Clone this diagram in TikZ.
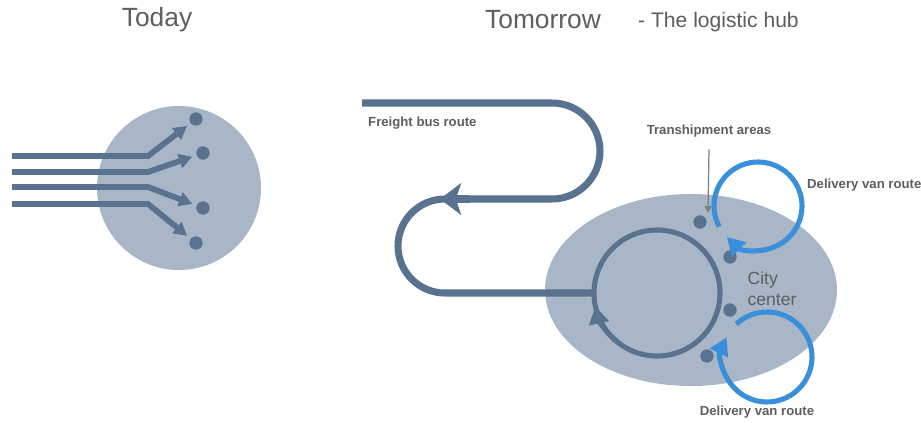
\documentclass[tikz,border=0pt]{standalone}
\usepackage{fontspec}
\setmainfont{Liberation Sans}
\usetikzlibrary{arrows.meta}
\definecolor{zonegray}{HTML}{A9B6C7}
\definecolor{routeblue}{HTML}{58728F}
\definecolor{vanblue}{HTML}{3A8FDA}
\definecolor{labelgray}{HTML}{5E5E5E}
\tikzset{
  feed/.style={routeblue,line width=3.3pt,-{Triangle[length=7.5pt,width=8pt]},shorten >=2.5pt},
  busline/.style={routeblue,line width=4pt},
  ring/.style={routeblue,line width=2.9pt},
  vanloop/.style={vanblue,line width=2.9pt},
  dot/.style={circle,fill=routeblue,inner sep=0pt,minimum size=7.6pt},
  title/.style={labelgray,font=\fontsize{15}{18}\selectfont},
  tag/.style={labelgray,font=\fontsize{7.5}{9}\selectfont\bfseries},
}
\begin{document}
\begin{tikzpicture}[x=0.02cm,y=0.02cm]
\useasboundingbox (0,0) rectangle (921,-423);
% titles
\node[title] (today) at (157,-20) {Today};
\node[title] (tomorrow) at (543,-20) {Tomorrow};
\node[labelgray,font=\fontsize{12}{14}\selectfont,anchor=west] (hubnote) at (632,-22) {- The logistic hub};
% today: every truck goes to its own address
\coordinate (oldtown) at (179,-188);
\fill[zonegray] (oldtown) circle[radius=82];
\node[dot] (a1) at (196,-119) {};
\node[dot] (a2) at (203,-153) {};
\node[dot] (a3) at (203,-208) {};
\node[dot] (a4) at (196,-243) {};
\draw[feed] (12,-156) -- (148,-156) -- (a1);
\draw[feed] (12,-172) -- (148,-172) -- (a2);
\draw[feed] (12,-187) -- (148,-187) -- (a3);
\draw[feed] (12,-204) -- (148,-204) -- (a4);
% tomorrow: city center with hub
\coordinate (city) at (691,-290);
\fill[zonegray] (city) ellipse[x radius=146, y radius=96];
\node[labelgray,font=\fontsize{10}{12}\selectfont,align=left] (citylabel) at (772,-289) {City\\center};
% freight bus route
\coordinate (hub) at (657,-293);
\draw[busline] (362,-103) -- (552,-103) arc[start angle=90,end angle=-90,radius=48]
  -- (445,-199) arc[start angle=90,end angle=270,radius=47] -- ([xshift=-1.26cm]hub);
\draw[busline,-{Stealth[length=12pt,width=18pt,inset=3pt]}] (470,-199) -- (440,-199);
\node[tag,anchor=west] (freight) at (362,-123) {Freight bus route};
\draw[ring] (hub) circle[radius=63];
\draw[ring,-{Triangle[length=10pt,width=11pt]}] (hub) ++(230:63) arc[start angle=230,end angle=192,radius=63];
% transhipment areas
\node[dot] (t1) at (700,-222) {};
\node[dot] (t2) at (730,-257) {};
\node[dot] (t3) at (730,-310) {};
\node[dot] (t4) at (707,-356) {};
\node[tag] (tranship) at (709,-131) {Transhipment areas};
\draw[gray,line width=0.7pt,-{Triangle[length=4pt,width=4pt]}] (tranship.south) ++(0,-6) -- (708,-213);
% delivery van routes
\coordinate (vanA) at (758,-206);
\coordinate (vanB) at (767,-357);
\draw[vanloop,-{Triangle[length=10pt,width=11pt]}] (vanA) ++(208:44) arc[start angle=208,end angle=-135,radius=44];
\draw[vanloop,-{Triangle[length=10pt,width=11pt]}] (vanB) ++(133:45) arc[start angle=133,end angle=-206,radius=45];
\node[tag,anchor=west] (vanup) at (801,-185) {Delivery van route};
\node[tag] (vandown) at (757,-412) {Delivery van route};
\end{tikzpicture}
\end{document}
